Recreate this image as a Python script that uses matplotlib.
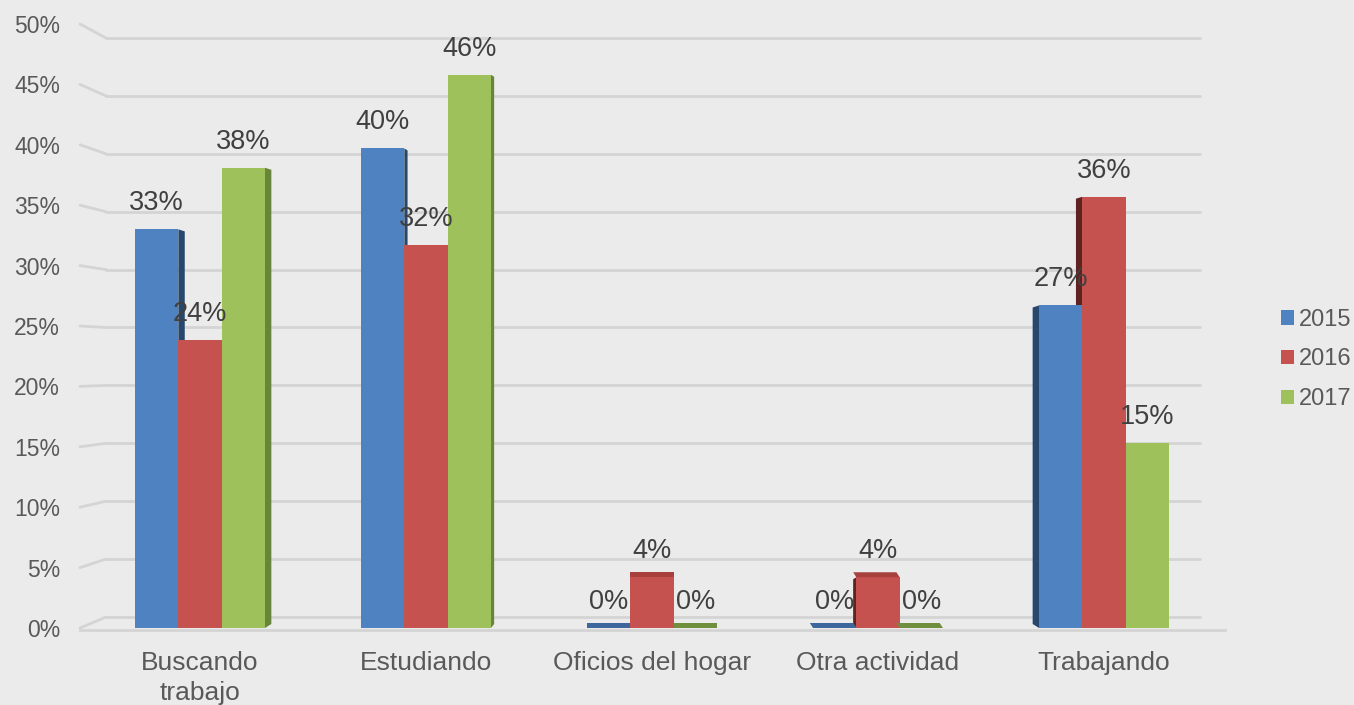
import matplotlib
matplotlib.use('Agg')
import matplotlib.pyplot as plt
from matplotlib.patches import Polygon, Patch

# ---------------- data ----------------
categories = ['Buscando\ntrabajo', 'Estudiando', 'Oficios del hogar',
              'Otra actividad', 'Trabajando']
years = ['2015', '2016', '2017']
v2015 = [33.0, 39.7, 0.0, 0.0, 26.7]
v2016 = [23.8, 31.7, 4.2, 4.2, 35.7]
v2017 = [38.1, 45.8, 0.0, 0.0, 15.3]
ytick_values = [0, 5, 10, 15, 20, 25, 30, 35, 40, 45, 50]

# ---------------- style ----------------
plt.rcParams['font.family'] = ['Liberation Sans', 'DejaVu Sans']
BG = '#ebebeb'
GRID = '#d4d4d4'
front_colors = ['#4e82c0', '#c65250', '#9ec15b']
side_colors = ['#27476e', '#5e2220', '#68853b']
top_colors = ['#3d679c', '#a8403e', '#6f8f3c']

W, H = 1354, 705
fig = plt.figure(figsize=(W / 100, H / 100), dpi=100, facecolor=BG)

PX_L, PX_R = 80, 1225       # axes left / right (pixels)
PY_B, PY_T = 628, 24        # axes bottom (0%) / top (50%) (pixels)
X0_PX, UNIT_PX = 200, 226   # pixel of category 0, pixels per category
ax = fig.add_axes([PX_L / W, (H - PY_B) / H, (PX_R - PX_L) / W, (PY_B - PY_T) / H])
ax.set_facecolor('none')
ax.set_xlim((PX_L - X0_PX) / UNIT_PX, (PX_R - X0_PX) / UNIT_PX)
ax.set_ylim(0, 50)
for s in ax.spines.values():
    s.set_visible(False)

sx = 1.0 / UNIT_PX          # data units per pixel (x)
sy = 50.0 / (PY_B - PY_T)   # data units per pixel (y)


def xd(px):
    return (px - X0_PX) / UNIT_PX


# ---------------- back wall gridlines with perspective ----------------
for v in ytick_values:
    yb = (11 + 11.58 * v) * sy
    ax.plot([xd(80), xd(106)], [v, yb], color=GRID, lw=2, zorder=1,
            clip_on=False, solid_capstyle='round')
    ax.plot([xd(106), xd(1200)], [yb, yb], color=GRID, lw=2, zorder=1,
            clip_on=False, solid_capstyle='round')
ax.plot([xd(80), xd(1225)], [-2 * sy, -2 * sy], color=GRID, lw=2, zorder=1,
        clip_on=False)

# ---------------- bars ----------------
series = [v2015, v2016, v2017]
w = 43.3 / UNIT_PX
for j, vals in enumerate(series):
    pos = [i + (j - 1) * w for i in range(len(categories))]
    ax.bar(pos, vals, width=w, color=front_colors[j], linewidth=0, zorder=3)
    for i, (p, h) in enumerate(zip(pos, vals)):
        dpx = 3.2 * (2 - i)
        dx = dpx * sx
        x0, x1 = p - w / 2, p + w / 2
        if h > 0 and dpx != 0:
            xe = x1 if dpx > 0 else x0
            poly = [(xe, 0), (xe, h), (xe + dx, h - 2 * sy), (xe + dx, 4 * sy)]
            ax.add_patch(Polygon(poly, closed=True, facecolor=side_colors[j],
                                 edgecolor='none', zorder=2))
        if h < 8:
            t = 5 * sy
            poly = [(x0, h), (x1, h), (x1 + dx, h + t), (x0 + dx, h + t)]
            ax.add_patch(Polygon(poly, closed=True, facecolor=top_colors[j],
                                 edgecolor='none', zorder=3.5))
        ax.annotate(f'{round(h):.0f}%', (p, h), xytext=(0, 9.5),
                    textcoords='offset points', ha='center', va='bottom',
                    fontsize=19.5, color='#404040', zorder=5)

# ---------------- axes text ----------------
ax.set_yticks(ytick_values)
ax.set_yticklabels([f'{v}%' for v in ytick_values])
ax.tick_params(axis='y', length=0, pad=14.4, labelsize=16.5, labelcolor='#595959')
ax.set_xticks(range(len(categories)))
ax.set_xticklabels(categories, linespacing=1.3)
ax.tick_params(axis='x', length=0, pad=16.5, labelsize=19, labelcolor='#595959')

# ---------------- legend ----------------
handles = [Patch(facecolor=c, edgecolor='none') for c in front_colors]
fig.legend(handles, years, loc='center left',
           bbox_to_anchor=(1281 / W, (H - 359.5) / H), frameon=False,
           fontsize=17, labelcolor='#595959', handlelength=0.55,
           handleheight=0.55, handletextpad=0.22, labelspacing=0.75,
           borderpad=0, borderaxespad=0)

fig.savefig('out.png', dpi=100, facecolor=BG)
